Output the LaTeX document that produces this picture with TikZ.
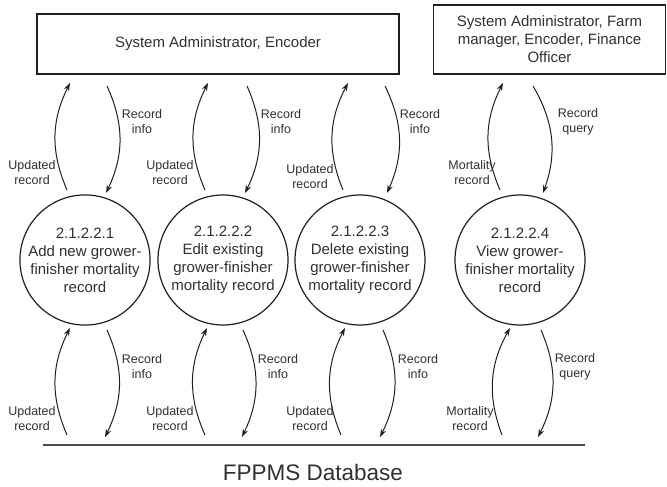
\documentclass[tikz,border=0pt]{standalone}
\usepackage{fontspec}
\setmainfont{Liberation Sans}
\usetikzlibrary{arrows.meta,calc}
\definecolor{txt}{HTML}{303030}
\definecolor{ln}{HTML}{202020}
\tikzset{
  proc/.style={circle, draw=ln, line width=1.2pt, minimum size=130pt, inner sep=0pt, align=center,
    font=\fontsize{15}{18}\selectfont, text=txt},
  ent/.style={draw=ln, line width=1.2pt, inner sep=0pt, align=center, font=\fontsize{15}{18}\selectfont, text=txt},
  flow/.style={draw=ln, line width=1pt, -{Stealth[length=8pt,width=5.5pt]}, bend left=25},
  lbl/.style={align=center, font=\fontsize{12.5}{15}\selectfont, text=txt, inner sep=0pt},
}
\begin{document}
\begin{tikzpicture}[x=1pt,y=-1pt]
\useasboundingbox (0,0) rectangle (667,487);
% external entities
\node[ent, minimum width=362pt, minimum height=60pt] (e1) at (218,44) {System Administrator, Encoder};
\node[ent, minimum width=232pt, minimum height=69pt] (e2) at (549.5,39.5) {System Administrator, Farm\\manager, Encoder, Finance\\Officer};
% processes
\node[proc] (c1) at (85,260) {2.1.2.2.1\\Add new grower-\\finisher mortality\\record};
\node[proc] (c2) at (223,260) {2.1.2.2.2\\Edit existing\\grower-finisher\\mortality record};
\node[proc] (c3) at (360,260) {2.1.2.2.3\\Delete existing\\grower-finisher\\mortality record};
\node[proc] (c4) at (520,260) {2.1.2.2.4\\View grower-\\finisher mortality\\record};
% data store
\coordinate (dbL) at (43,445);
\coordinate (dbR) at (585,445);
\draw[line width=1.5pt, draw=black!70] (dbL) -- (dbR);
\node[font=\fontsize{22.5}{26}\selectfont, text=txt] (db) at (313,472) {FPPMS Database};

% top flows
\foreach \c/\a/\b/\cc/\d in {c1/-18/-15/22/21, c2/-18/-15/24/22, c3/-17/-12/25/27, c4/-20/-17/13/23}{
  \draw[flow] ($(\c)+(\a,-70)$) to ($(\c)+(\b,-177)$);
  \draw[flow] ($(\c)+(\cc,-174)$) to ($(\c)+(\d,-67)$);
}
% bottom flows
\foreach \c/\a/\b/\cc/\d in {c1/-18/-15/22/20, c2/-18/-16/20/19, c3/-19/-15/23/20, c4/-18/-10/21/18}{
  \draw[flow] ($(\c)+(\a,175)$) to ($(\c)+(\b,68)$);
  \draw[flow] ($(\c)+(\cc,70)$) to ($(\c)+(\d,177)$);
}
% labels top
\node[lbl] (t1r) at (142,122) {Record\\info};
\node[lbl] (t1l) at (32,173) {Updated\\record};
\node[lbl] (t2r) at (281,122) {Record\\info};
\node[lbl] (t2l) at (170,173) {Updated\\record};
\node[lbl] (t3r) at (420,122) {Record\\info};
\node[lbl] (t3l) at (310,177) {Updated\\record};
\node[lbl] (t4r) at (578,122) {Record\\query};
\node[lbl] (t4l) at (472,173) {Mortality\\record};
% labels bottom
\node[lbl] (b1r) at (142,367) {Record\\info};
\node[lbl] (b1l) at (32,419) {Updated\\record};
\node[lbl] (b2r) at (278,367) {Record\\info};
\node[lbl] (b2l) at (170,419) {Updated\\record};
\node[lbl] (b3r) at (418,367) {Record\\info};
\node[lbl] (b3l) at (310,419) {Updated\\record};
\node[lbl] (b4r) at (575,367) {Record\\query};
\node[lbl] (b4l) at (470,419) {Mortality\\record};
\end{tikzpicture}
\end{document}
